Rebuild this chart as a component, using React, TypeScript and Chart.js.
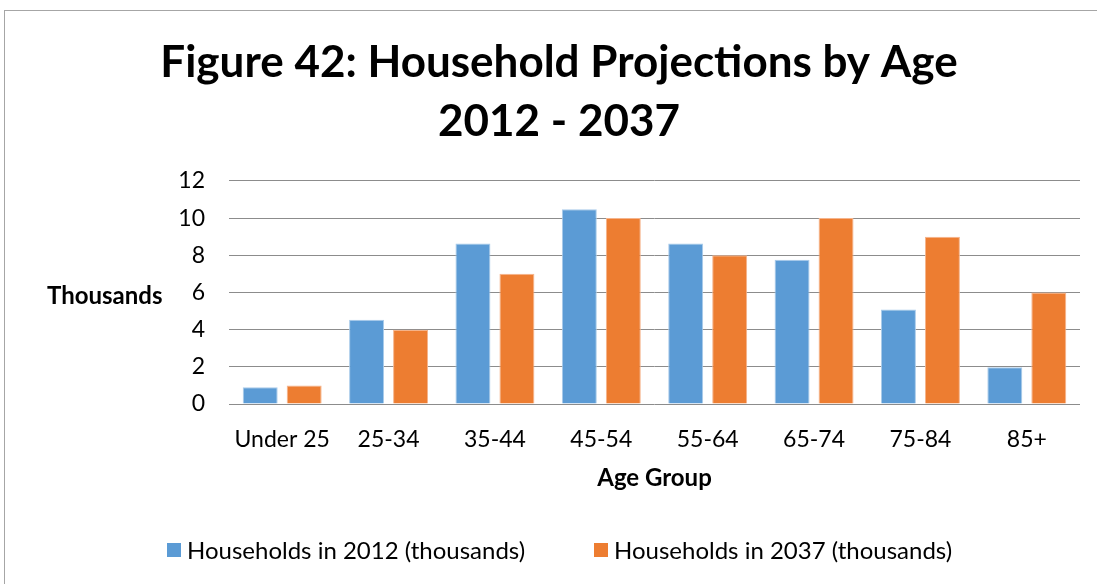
import React, { useEffect, useRef } from "react";
import { Chart, registerables } from "chart.js";

Chart.register(...registerables);

const categories = ["Under 25", "25-34", "35-44", "45-54", "55-64", "65-74", "75-84", "85+"];
const households2012 = [0.9, 4.53, 8.64, 10.48, 8.64, 7.76, 5.09, 1.98];
const households2037 = [1.0, 4.0, 7.0, 10.0, 8.0, 10.0, 9.0, 6.0];
const seriesLabels = ["Households in 2012 (thousands)", "Households in 2037 (thousands)"];
const titleLines = ["Figure 42: Household Projections by Age", "2012 - 2037"];
const yTicks = { min: 0, max: 12, step: 2 };

const BLUE = "#5B9BD5";
const ORANGE = "#ED7D31";
const FONT = "Lato, 'Open Sans', sans-serif";

export default function App() {
  const ref = useRef<HTMLCanvasElement | null>(null);

  useEffect(() => {
    if (!ref.current) return;
    const chart = new Chart(ref.current, {
      type: "bar",
      data: {
        labels: categories,
        datasets: [
          {
            label: seriesLabels[0],
            data: households2012,
            backgroundColor: BLUE,
            borderColor: "#A9CBEA",
            borderWidth: 1,
          },
          {
            label: seriesLabels[1],
            data: households2037,
            backgroundColor: ORANGE,
            borderColor: "#F5B48C",
            borderWidth: 1,
          },
        ],
      },
      options: {
        responsive: false,
        animation: false,
        layout: { padding: { left: 38, right: 17, top: 0, bottom: 91 } },
        datasets: { bar: { categoryPercentage: 0.827, barPercentage: 0.795 } },
        plugins: {
          legend: { display: false },
          tooltip: { enabled: false },
          title: {
            display: true,
            text: titleLines,
            color: "#000",
            font: { family: FONT, size: 44, weight: "bold", lineHeight: 1.34 },
            padding: { top: 33.5, bottom: 29.5 },
          },
        },
        scales: {
          x: {
            afterFit: (s: any) => {
              s.height = 89;
            },
            grid: { display: false, drawTicks: false },
            border: { display: false },
            ticks: { color: "#000", font: { family: FONT, size: 23 }, padding: 22, maxRotation: 0, autoSkip: false },
            title: {
              display: true,
              text: "Age Group",
              color: "#000",
              font: { family: FONT, size: 24, weight: "bold", lineHeight: 1.2 },
              padding: { top: 14, bottom: 0 },
            },
          },
          y: {
            min: yTicks.min,
            max: yTicks.max,
            afterFit: (s: any) => {
              s.width = 191;
            },
            grid: { color: "#8c8c8c", lineWidth: 1, drawTicks: false },
            border: { display: false },
            ticks: { stepSize: yTicks.step, color: "#000", font: { family: FONT, size: 23 }, padding: 24 },
          },
        },
      },
    });
    return () => chart.destroy();
  }, []);

  return (
    <div style={{ position: "fixed", left: 0, top: 0, width: 1097, height: 584, background: "#fff", overflow: "hidden" }}>
      <div
        style={{
          position: "absolute",
          left: 4,
          top: 10,
          width: 1120,
          height: 620,
          border: "1px solid #a6a6a6",
          boxSizing: "border-box",
        }}
      />
      <canvas ref={ref} width={1097} height={584} style={{ position: "absolute", left: 0, top: 0 }} />
      <div
        style={{
          position: "absolute",
          left: 47,
          top: 280,
          fontFamily: FONT,
          fontWeight: "bold",
          fontSize: 24,
          lineHeight: "29px",
          color: "#000",
        }}
      >
        Thousands
      </div>
      {seriesLabels.map((lab, i) => (
        <div
          key={lab}
          style={{
            position: "absolute",
            left: i === 0 ? 167 : 594,
            top: 535,
            display: "flex",
            alignItems: "center",
            whiteSpace: "nowrap",
            fontFamily: FONT,
            fontSize: 24,
            lineHeight: "29px",
            color: "#000",
          }}
        >
          <span style={{ display: "inline-block", width: 14, height: 14, background: i === 0 ? BLUE : ORANGE, marginRight: 6 }} />
          <span>{lab}</span>
        </div>
      ))}
    </div>
  );
}
